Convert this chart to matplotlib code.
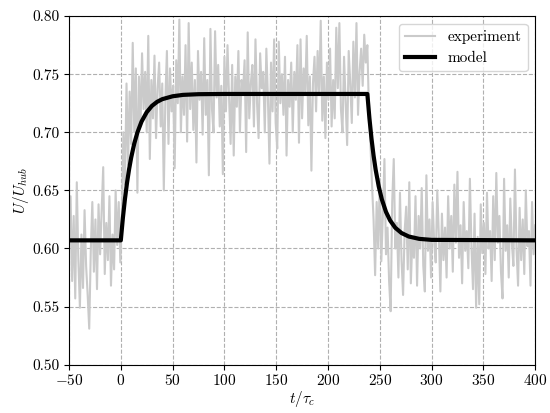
import numpy as np
import matplotlib
matplotlib.use("Agg")
import matplotlib.pyplot as plt

plt.rcParams["font.family"] = "cmr10"
plt.rcParams["mathtext.fontset"] = "cm"
plt.rcParams["axes.formatter.use_mathtext"] = True
plt.rcParams["font.size"] = 11

# experiment: sampled every 1.5 t/tau_c starting at -50
t_start = -50.0
t_step = 1.5
u_exp = [
    # t = -50 .. -0.5
    0.600, 0.645, 0.572, 0.628, 0.557, 0.657, 0.590, 0.549, 0.612, 0.566,
    0.633, 0.585, 0.560, 0.531, 0.598, 0.640, 0.580, 0.625, 0.565, 0.638,
    0.595, 0.632, 0.670, 0.578, 0.622, 0.590, 0.645, 0.568, 0.612, 0.582,
    0.650, 0.603, 0.640, 0.588,
    # t = 1 .. 20.5
    0.625, 0.700, 0.655, 0.742, 0.672, 0.735, 0.690, 0.777, 0.700, 0.755,
    0.648, 0.748, 0.705, 0.768,
    # t = 22 .. 235
    0.720, 0.752, 0.700, 0.783, 0.677, 0.745, 0.712, 0.766, 0.695, 0.738,
    0.760, 0.705, 0.742, 0.650, 0.728, 0.770, 0.690, 0.755, 0.718, 0.740,
    0.669, 0.762, 0.725, 0.797, 0.700, 0.748, 0.715, 0.775, 0.692, 0.794,
    0.720, 0.760, 0.702, 0.745, 0.674, 0.770, 0.728, 0.752, 0.698, 0.781,
    0.715, 0.745, 0.663, 0.789, 0.720, 0.700, 0.787, 0.730, 0.758, 0.705,
    0.740, 0.664, 0.765, 0.718, 0.775, 0.730, 0.690, 0.758, 0.680, 0.748,
    0.722, 0.770, 0.700, 0.745, 0.735, 0.762, 0.683, 0.786, 0.712, 0.742,
    0.758, 0.705, 0.780, 0.725, 0.695, 0.768, 0.738, 0.752, 0.700, 0.772,
    0.730, 0.673, 0.760, 0.718, 0.780, 0.708, 0.686, 0.778, 0.725, 0.750,
    0.715, 0.765, 0.680, 0.745, 0.722, 0.760, 0.700, 0.752, 0.728, 0.775,
    0.691, 0.780, 0.712, 0.755, 0.735, 0.783, 0.706, 0.748, 0.667, 0.742,
    0.765, 0.718, 0.770, 0.732, 0.796, 0.710, 0.748, 0.695, 0.760, 0.728,
    0.772, 0.705, 0.745, 0.712, 0.790, 0.738, 0.794, 0.720, 0.700, 0.765,
    0.728, 0.689, 0.770, 0.742, 0.708, 0.778, 0.730, 0.794, 0.715, 0.752,
    0.772, 0.740, 0.784,
    # t = 236.5 .. 250
    0.760, 0.775, 0.720, 0.690, 0.655, 0.625, 0.577, 0.640, 0.600, 0.660,
    # t = 251.5 .. 400
    0.589, 0.630, 0.677, 0.595, 0.618, 0.572, 0.546, 0.640, 0.677, 0.600,
    0.622, 0.575, 0.648, 0.590, 0.560, 0.615, 0.636, 0.582, 0.657, 0.570,
    0.610, 0.592, 0.645, 0.568, 0.628, 0.600, 0.652, 0.585, 0.563, 0.663,
    0.598, 0.625, 0.575, 0.640, 0.606, 0.588, 0.650, 0.612, 0.563, 0.630,
    0.590, 0.618, 0.575, 0.645, 0.600, 0.628, 0.580, 0.655, 0.605, 0.666,
    0.592, 0.620, 0.570, 0.640, 0.598, 0.615, 0.583, 0.660, 0.602, 0.565,
    0.630, 0.549, 0.610, 0.552, 0.638, 0.596, 0.622, 0.578, 0.648, 0.600,
    0.615, 0.572, 0.645, 0.590, 0.665, 0.605, 0.628, 0.580, 0.557, 0.660,
    0.598, 0.620, 0.575, 0.643, 0.605, 0.585, 0.668, 0.600, 0.568, 0.635,
    0.590, 0.625, 0.578, 0.650, 0.602, 0.615, 0.568, 0.640, 0.595, 0.620,
]
t_exp = t_start + t_step * np.arange(len(u_exp))

# model curve, points
t_model = [-50, 0, 2, 4, 6, 8, 10, 13, 16, 20, 25, 30, 35, 40, 50, 60, 75, 100,
           238, 240, 242, 244, 246, 249, 252, 256, 260, 265, 271, 278, 288,
           300, 400]
u_model = [0.607, 0.607, 0.6263, 0.6427, 0.6566, 0.6683, 0.6782, 0.6904,
           0.6998, 0.7092, 0.7173, 0.7227, 0.7262, 0.7285, 0.7310, 0.7322,
           0.7328, 0.733,
           0.733, 0.7121, 0.6946, 0.6800, 0.6679, 0.6534, 0.6423, 0.6315,
           0.6241, 0.6178, 0.6133, 0.6103, 0.6083, 0.6074, 0.607]

fig = plt.figure(figsize=(5.5, 4.13), dpi=100)
ax = fig.add_axes([0.1255, 0.117, 0.8475, 0.844])

ax.plot(t_exp, u_exp, color="#cacaca", lw=1.5, label="experiment")
ax.plot(t_model, u_model, color="black", lw=3, label="model")

ax.set_xlim(-50, 400)
ax.set_ylim(0.50, 0.80)
ax.set_xticks(np.arange(-50, 401, 50))
ax.set_yticks([0.50, 0.55, 0.60, 0.65, 0.70, 0.75, 0.80])
ax.yaxis.set_major_formatter(matplotlib.ticker.FormatStrFormatter("%.2f"))
ax.tick_params(axis="x", pad=2.5)
ax.set_xlabel(r"$t/\tau_c$", labelpad=1)
ax.set_ylabel(r"$U/U_{hub}$", labelpad=1)

ax.grid(True, ls="--", color="#b0b0b0", lw=0.8)
ax.legend(loc="upper right")

fig.savefig("out.png", dpi=100)
